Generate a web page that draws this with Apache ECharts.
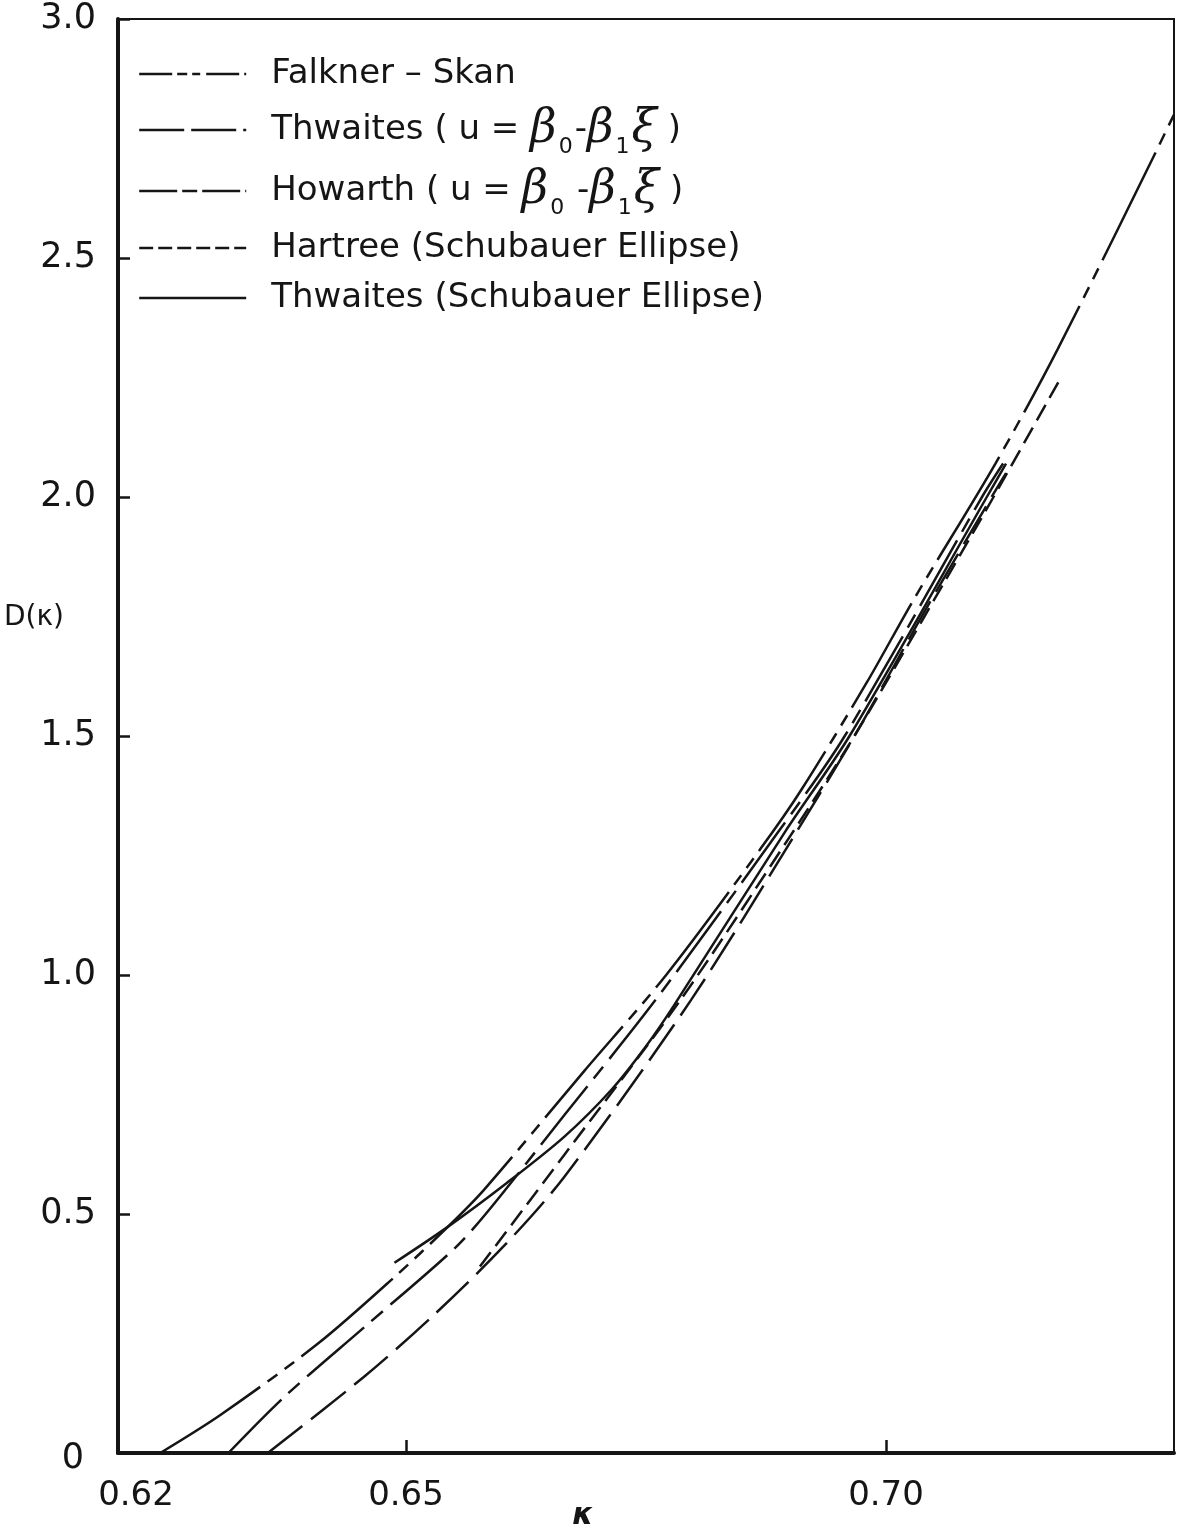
<!DOCTYPE html>
<html>
<head>
<meta charset="utf-8">
<script src="https://cdn.jsdelivr.net/npm/echarts@6/dist/echarts.min.js"></script>
<style>
  html, body { margin: 0; padding: 0; background: #ffffff; }
  #chart { width: 1178px; height: 1533px; }
</style>
</head>
<body>
<div id="chart"></div>
<script>
// D(kappa) curves, each as [kappa, D] pairs
const falknerSkan = [[0.6244,0],[0.6307,0.08],[0.6409,0.23],[0.6489,0.37],[0.6542,0.47],[0.6581,0.55],[0.6686,0.80],[0.6771,1.0],[0.6870,1.266],[0.6912,1.388],[0.698,1.612],[0.7029,1.786],[0.7114,2.07],[0.7179,2.31],[0.7300,2.80],[0.7312,2.86]];
const thwaitesLinear = [[0.6356,0],[0.6456,0.159],[0.6527,0.285],[0.6601,0.431],[0.6665,0.578],[0.6797,0.948],[0.6907,1.30],[0.697,1.51],[0.704,1.76],[0.711,2.0],[0.7125,2.05]];
const howarthLinear = [[0.6315,0],[0.6373,0.117],[0.6457,0.264],[0.6549,0.425],[0.6583,0.50],[0.6665,0.707],[0.676,0.948],[0.6888,1.30],[0.6957,1.50],[0.7100,2.0],[0.7122,2.07]];
const hartreeEllipse = [[0.6577,0.39],[0.6665,0.624],[0.6786,0.948],[0.690,1.29],[0.6967,1.50],[0.704,1.75],[0.7112,2.0],[0.718,2.242]];
const thwaitesEllipse = [[0.6488,0.398],[0.6542,0.471],[0.6605,0.565],[0.6665,0.662],[0.6714,0.760],[0.6750,0.851],[0.6779,0.936],[0.6895,1.30],[0.6962,1.50],[0.7105,2.0],[0.7125,2.07]];

// axis labelling
const xLabelValues = [0.62, 0.65, 0.70];
const xTickValues = [0.65, 0.70];
const yTickStep = 0.5;

const ink = '#151515';
const font = 'DejaVu Sans';

const seriesDefs = [
  { name: 'Falkner – Skan', data: falknerSkan, dash: [120, 9, 12, 9, 12, 9], legendDash: [33, 5, 10, 5, 8, 6] },
  { name: 'Thwaites ( u = β0 -β1ξ )', data: thwaitesLinear, dash: [44, 11], legendDash: [45, 7] },
  { name: 'Howarth ( u = β0 -β1ξ )', data: howarthLinear, dash: [75, 10, 15, 10], legendDash: [38, 5, 15, 5] },
  { name: 'Hartree (Schubauer Ellipse)', data: hartreeEllipse, dash: [18, 8], legendDash: [14, 5] },
  { name: 'Thwaites (Schubauer Ellipse)', data: thwaitesEllipse, dash: 'solid', legendDash: 'solid' }
];

const richLegend = {
  'Falkner – Skan': 'Falkner – Skan',
  'Thwaites ( u = β0 -β1ξ )': 'Thwaites ( u = {g|β}{s|0}{t|-}{g|β}{s|1}{g|ξ} )',
  'Howarth ( u = β0 -β1ξ )': 'Howarth ( u = {g|β}{s|0} {t|-}{g|β}{s|1}{g|ξ} )',
  'Hartree (Schubauer Ellipse)': 'Hartree (Schubauer Ellipse)',
  'Thwaites (Schubauer Ellipse)': 'Thwaites (Schubauer Ellipse)'
};

const legendRowsTop = [57, 107, 168, 231, 281];

const chart = echarts.init(document.getElementById('chart'), null, { renderer: 'canvas' });

const option = {
  backgroundColor: '#ffffff',
  animation: false,
  grid: {
    left: 118, right: 4, top: 19, bottom: 80,
    outerBoundsMode: 'none', containLabel: false,
    show: true, borderColor: ink, borderWidth: 2, backgroundColor: 'transparent'
  },
  legend: seriesDefs.map((s, i) => ({
    orient: 'vertical',
    left: 138,
    top: legendRowsTop[i],
    padding: 0,
    itemWidth: 107,
    itemHeight: 16,
    data: [{
      name: s.name,
      itemStyle: { opacity: 0 },
      lineStyle: { type: s.legendDash, width: 2.4, color: ink }
    }],
    formatter: name => richLegend[name],
    textStyle: {
      fontFamily: font, fontSize: 34, color: ink, padding: [0, 0, 0, 20],
      rich: {
        g: { fontFamily: 'DejaVu Serif', fontStyle: 'italic', fontSize: 46, color: ink },
        s: { fontFamily: font, fontSize: 22, color: ink, padding: [34, 2, 0, 2] },
        t: { fontFamily: font, fontSize: 34, color: ink }
      }
    },
    selectedMode: false
  })),
  graphic: [{
    type: 'text', left: 4, top: 604,
    style: { text: 'D(κ)', fontFamily: font, fontSize: 28, fill: ink }
  }],
  xAxis: {
    type: 'value', min: 0.62, max: 0.73,
    axisLine: { onZero: false, lineStyle: { color: ink, width: 4 } },
    axisTick: { inside: true, length: 13, customValues: xTickValues, lineStyle: { color: ink, width: 2.5 } },
    axisLabel: {
      customValues: xLabelValues,
      margin: 26,
      fontFamily: font, fontSize: 34, color: ink,
      formatter: v => Math.abs(v - 0.62) < 1e-9 ? '{c|0.62}' : v.toFixed(2),
      rich: { c: { fontFamily: font, fontSize: 34, color: ink, padding: [0, 0, 0, 36] } }
    },
    splitLine: { show: false },
    name: 'κ',
    nameLocation: 'middle',
    nameGap: 48,
    nameMoveOverlap: false,
    nameTextStyle: { fontFamily: font, fontSize: 30, fontStyle: 'italic', fontWeight: 'bold', color: ink, padding: [0, 126, 0, 0] }
  },
  yAxis: {
    type: 'value', min: 0, max: 3, interval: yTickStep,
    axisLine: { onZero: false, lineStyle: { color: ink, width: 4 } },
    axisTick: { inside: true, length: 12, lineStyle: { color: ink, width: 2.5 } },
    axisLabel: {
      margin: 22, fontFamily: font, fontSize: 35, color: ink,
      formatter: v => v === 0 ? '{z|0}' : v.toFixed(1),
      rich: { z: { fontFamily: font, fontSize: 35, color: ink, padding: [12, 12, 0, 0] } }
    },
    splitLine: { show: false }
  },
  series: seriesDefs.map(s => ({
    name: s.name,
    type: 'line',
    data: s.data,
    symbol: 'none',
    smooth: 0.3,
    clip: false,
    color: ink,
    lineStyle: { color: ink, width: 2.5, type: s.dash },
    emphasis: { disabled: true }
  }))
};

chart.setOption(option);
</script>
</body>
</html>
